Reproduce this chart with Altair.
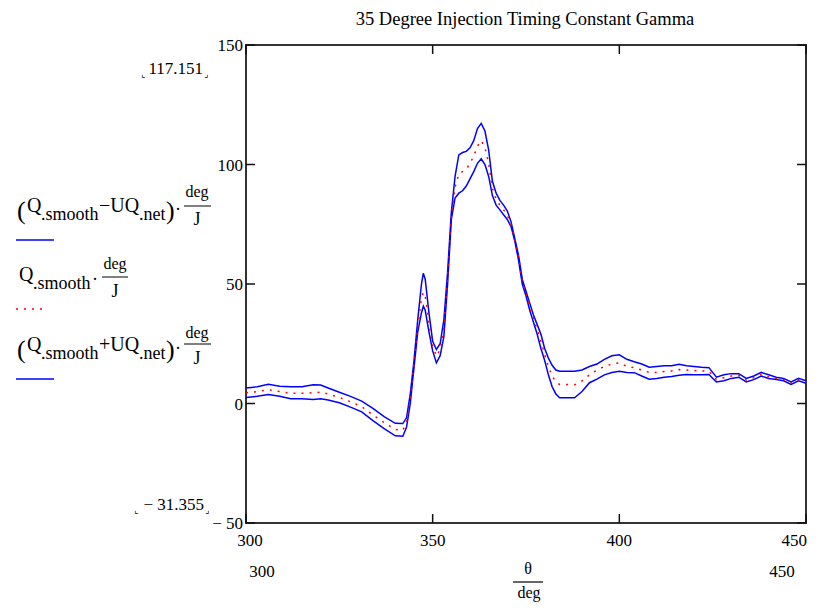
import altair as alt
import pandas as pd

# ---------------- data ----------------
theta = [300, 303, 306, 309, 312, 315, 318, 320, 322, 325, 328, 331, 334, 337, 340, 342,
         343, 344, 345, 346, 347, 347.5, 348, 349, 350, 351, 352, 353, 354, 355, 356, 357, 358, 359,
         360, 361, 362, 363, 364, 365, 366, 367, 368, 369, 370, 371, 372, 373, 374, 375, 376, 377,
         378, 379, 380, 381, 382, 383, 384, 386, 388, 390, 392, 394, 396, 398, 400, 402, 404, 406,
         408, 410, 412, 414, 416, 418, 420, 422, 424, 426, 428, 430, 432, 434, 436, 438, 440, 442,
         444, 446, 448, 450]

q_upper = [6.5, 7.0, 8.0, 7.2, 7.0, 7.0, 7.8, 7.7, 6.5, 4.7, 3.0, 1.0, -2.0, -5.5, -8.3, -8.4,
           -6, 4, 18, 35, 50, 54.5, 52, 38, 26, 22.6, 25, 35, 55, 80, 95, 104, 105, 105.5,
           107, 110, 115, 117.2, 114, 106, 93, 88, 85, 83, 80.5, 76, 69, 62, 52, 47, 42, 37,
           33, 29, 23, 19, 16, 14, 13.5, 13.5, 13.5, 14, 15.5, 16.5, 18.5, 20, 20.4, 18.5, 17.5, 16.5,
           15.2, 15.5, 15.8, 15.8, 16.4, 15.8, 15.5, 15.2, 15.0, 11, 12, 12.5, 12.5, 10.5, 11.5, 13, 12, 11,
           10.5, 9, 10.5, 9.5]

q_smooth = [4.5, 5.0, 5.8, 5.0, 4.3, 4.3, 4.5, 4.7, 4.0, 2.6, 0.7, -1.3, -4.8, -8.0, -10.9, -11.2,
            -8, 2, 16.5, 32.5, 44, 46.5, 45, 34, 24, 19.8, 22.5, 31.5, 52.5, 78.5, 90.5, 96, 97, 98,
            100.5, 103.5, 107.7, 110, 107, 100.5, 90, 85.5, 83, 81, 78.7, 75, 68.5, 61, 51, 46, 40.5, 35.5,
            31, 26, 20.5, 15.5, 11.5, 9, 8, 8, 7.8, 9.5, 12, 14, 15.5, 16.5, 17, 15.5, 15, 14,
            13, 13, 13.4, 13.6, 14.2, 14, 13.8, 13.6, 13.5, 10, 10.8, 11.5, 11.8, 9.8, 10.8, 12.2, 11.2, 10.5,
            10, 8.5, 10, 9]

q_lower = [2.5, 3.0, 3.8, 3.0, 2.0, 2.0, 1.7, 2.0, 1.5, 0.3, -1.5, -3.5, -7.2, -10.5, -13.5, -13.7,
           -10, 0, 15, 30, 38, 40.7, 39, 30, 22, 17, 20, 28, 50, 77, 86, 88, 89, 91,
           94, 97, 100.5, 102.4, 100, 95, 87, 83, 81, 79, 77, 74, 68, 60, 50, 45, 39, 34,
           29, 23, 18, 12, 7, 4, 2.4, 2.4, 2.4, 5, 8.7, 10.2, 12, 13, 13.5, 13, 12.9, 11.5,
           10.2, 10.5, 11, 11.3, 11.8, 12.1, 12, 12, 12.1, 9, 9.5, 10.5, 11, 9, 10, 11.5, 10.5, 10,
           9.5, 8, 9.5, 8.5]

y_ticks = [-50, 0, 50, 100, 150]
y_tick_labels = ["\u2212 50", "0", "50", "100", "150"]
x_ticks = [300, 350, 400, 450]
x_tick_labels = ["300", "350", "400", "450"]

# ---------------- layout ----------------
W, H = 560, 478
OX, OY = 246, 45          # page position of the plot area's top-left corner
SERIF = "Liberation Serif"
BLUE = "#0000ff"
RED = "#ff0000"

df = pd.DataFrame({"theta": theta, "upper": q_upper, "mid": q_smooth, "lower": q_lower})

xs = alt.Scale(domain=[300, 450], nice=False, zero=False)
ys = alt.Scale(domain=[-50, 150], nice=False, zero=False)

base = alt.Chart(df)
xe = alt.X("theta:Q", scale=xs, axis=None)

line_lower = base.mark_line(color=BLUE, strokeWidth=1.5).encode(
    x=xe, y=alt.Y("lower:Q", scale=ys, axis=None))
line_upper = base.mark_line(color=BLUE, strokeWidth=1.5).encode(
    x=xe, y=alt.Y("upper:Q", scale=ys, axis=None))
line_mid = base.mark_line(color=RED, strokeWidth=1.5, strokeDash=[2, 6]).encode(
    x=xe, y=alt.Y("mid:Q", scale=ys, axis=None))

# inward ticks on all four sides
ydf = pd.DataFrame({"v": y_ticks, "lab": y_tick_labels})
xdf = pd.DataFrame({"v": x_ticks, "lab": x_tick_labels})
ty = alt.Chart(ydf)
tx = alt.Chart(xdf)
tick_style = dict(color="#111111", strokeWidth=1.5)
left_t = ty.mark_rule(**tick_style).encode(y=alt.Y("v:Q", scale=ys, axis=None),
                                           x=alt.value(0), x2=alt.value(9))
right_t = ty.mark_rule(**tick_style).encode(y=alt.Y("v:Q", scale=ys, axis=None),
                                            x=alt.value(W - 9), x2=alt.value(W))
bottom_t = tx.mark_rule(**tick_style).encode(x=alt.X("v:Q", scale=xs, axis=None),
                                             y=alt.value(H - 9), y2=alt.value(H))
top_t = tx.mark_rule(**tick_style).encode(x=alt.X("v:Q", scale=xs, axis=None),
                                          y=alt.value(0), y2=alt.value(9))

# tick labels, placed through the scales
lab_style = dict(font=SERIF, fontSize=17, color="#000000")
y_labels = ty.mark_text(align="right", baseline="middle", dy=1, **lab_style).encode(
    y=alt.Y("v:Q", scale=ys, axis=None), x=alt.value(-3), text="lab:N")
x_lab_first = tx.transform_filter("datum.v == 300").mark_text(
    align="center", baseline="alphabetic", dx=4, **lab_style).encode(
    x=alt.X("v:Q", scale=xs, axis=None), y=alt.value(501), text="lab:N")
x_lab_mid = tx.transform_filter("datum.v > 300 && datum.v < 450").mark_text(
    align="center", baseline="alphabetic", **lab_style).encode(
    x=alt.X("v:Q", scale=xs, axis=None), y=alt.value(501), text="lab:N")
x_lab_last = tx.transform_filter("datum.v == 450").mark_text(
    align="right", baseline="alphabetic", dx=1, **lab_style).encode(
    x=alt.X("v:Q", scale=xs, axis=None), y=alt.value(501), text="lab:N")


def txt(s, X, Y, size, align="left", font=SERIF, color="#000000"):
    return alt.Chart(pd.DataFrame({"t": [s]})).mark_text(
        align=align, baseline="alphabetic", font=font, fontSize=size, color=color
    ).encode(text="t:N", x=alt.value(X - OX), y=alt.value(Y - OY))


def hline(X1, X2, Y, color="#000000", width=1.0, dash=None):
    kw = dict(color=color, strokeWidth=width)
    if dash:
        kw["strokeDash"] = dash
    return alt.Chart(pd.DataFrame({"d": [0]})).mark_rule(**kw).encode(
        x=alt.value(X1 - OX), x2=alt.value(X2 - OX), y=alt.value(Y - OY))


texts = [
    txt("35 Degree Injection Timing Constant Gamma", 525, 25, 18.5, align="center"),
    # limit markers
    txt("117.151", 203, 74, 17, align="right"),
    txt("\u231e", 141, 77, 9, font="DejaVu Sans"),
    txt("\u231f", 204, 77, 9, font="DejaVu Sans"),
    txt("\u2212 31.355", 204, 510, 17, align="right"),
    txt("\u231e", 134, 513, 9, font="DejaVu Sans"),
    txt("\u231f", 205, 513, 9, font="DejaVu Sans"),
    # second row of x labels and axis title
    txt("300", 262, 577, 17, align="center"),
    txt("450", 782, 577, 17, align="center"),
    txt("\u03b8", 528, 574, 16, align="center"),
    hline(513, 543, 582, width=1.2),
    txt("deg", 529, 598, 16, align="center"),
    # legend entry 1
    txt("(", 17, 219, 26),
    txt("Q", 27, 212, 20),
    txt(".smooth", 41, 220, 18),
    txt("\u2212UQ", 99, 212, 20),
    txt(".net", 139, 220, 18),
    txt(")", 166, 219, 26),
    txt("\u00b7", 175, 215, 18),
    txt("deg", 197, 197, 16, align="center"),
    hline(184, 211, 206, width=1.0),
    txt("J", 197, 225, 18, align="center"),
    hline(16, 54, 240, color=BLUE, width=1.5),
    # legend entry 2
    txt("Q", 19, 281, 20),
    txt(".smooth", 33, 289, 18),
    txt("\u00b7", 92, 285, 18),
    txt("deg", 115, 269, 16, align="center"),
    hline(102, 128, 277, width=1.0),
    txt("J", 115, 297, 18, align="center"),
    hline(16, 48, 309, color=RED, width=1.5, dash=[2, 6]),
    # legend entry 3
    txt("(", 17, 358, 26),
    txt("Q", 27, 351, 20),
    txt(".smooth", 41, 359, 18),
    txt("+UQ", 99, 351, 20),
    txt(".net", 139, 359, 18),
    txt(")", 166, 358, 26),
    txt("\u00b7", 175, 354, 18),
    txt("deg", 197, 338, 16, align="center"),
    hline(184, 211, 344, width=1.0),
    txt("J", 197, 364, 18, align="center"),
    hline(16, 54, 379, color=BLUE, width=1.5),
]

chart = alt.layer(
    line_lower, line_upper, line_mid, left_t, right_t, bottom_t, top_t,
    y_labels, x_lab_first, x_lab_mid, x_lab_last, *texts
).properties(
    width=W, height=H,
    autosize="none",
    padding={"left": OX - 8, "top": OY - 8, "right": 12, "bottom": 80},
    background="#ffffff",
).configure_view(stroke="#333333", strokeWidth=2)

chart.save("out.html", embed_options={"renderer": "svg", "actions": False})
